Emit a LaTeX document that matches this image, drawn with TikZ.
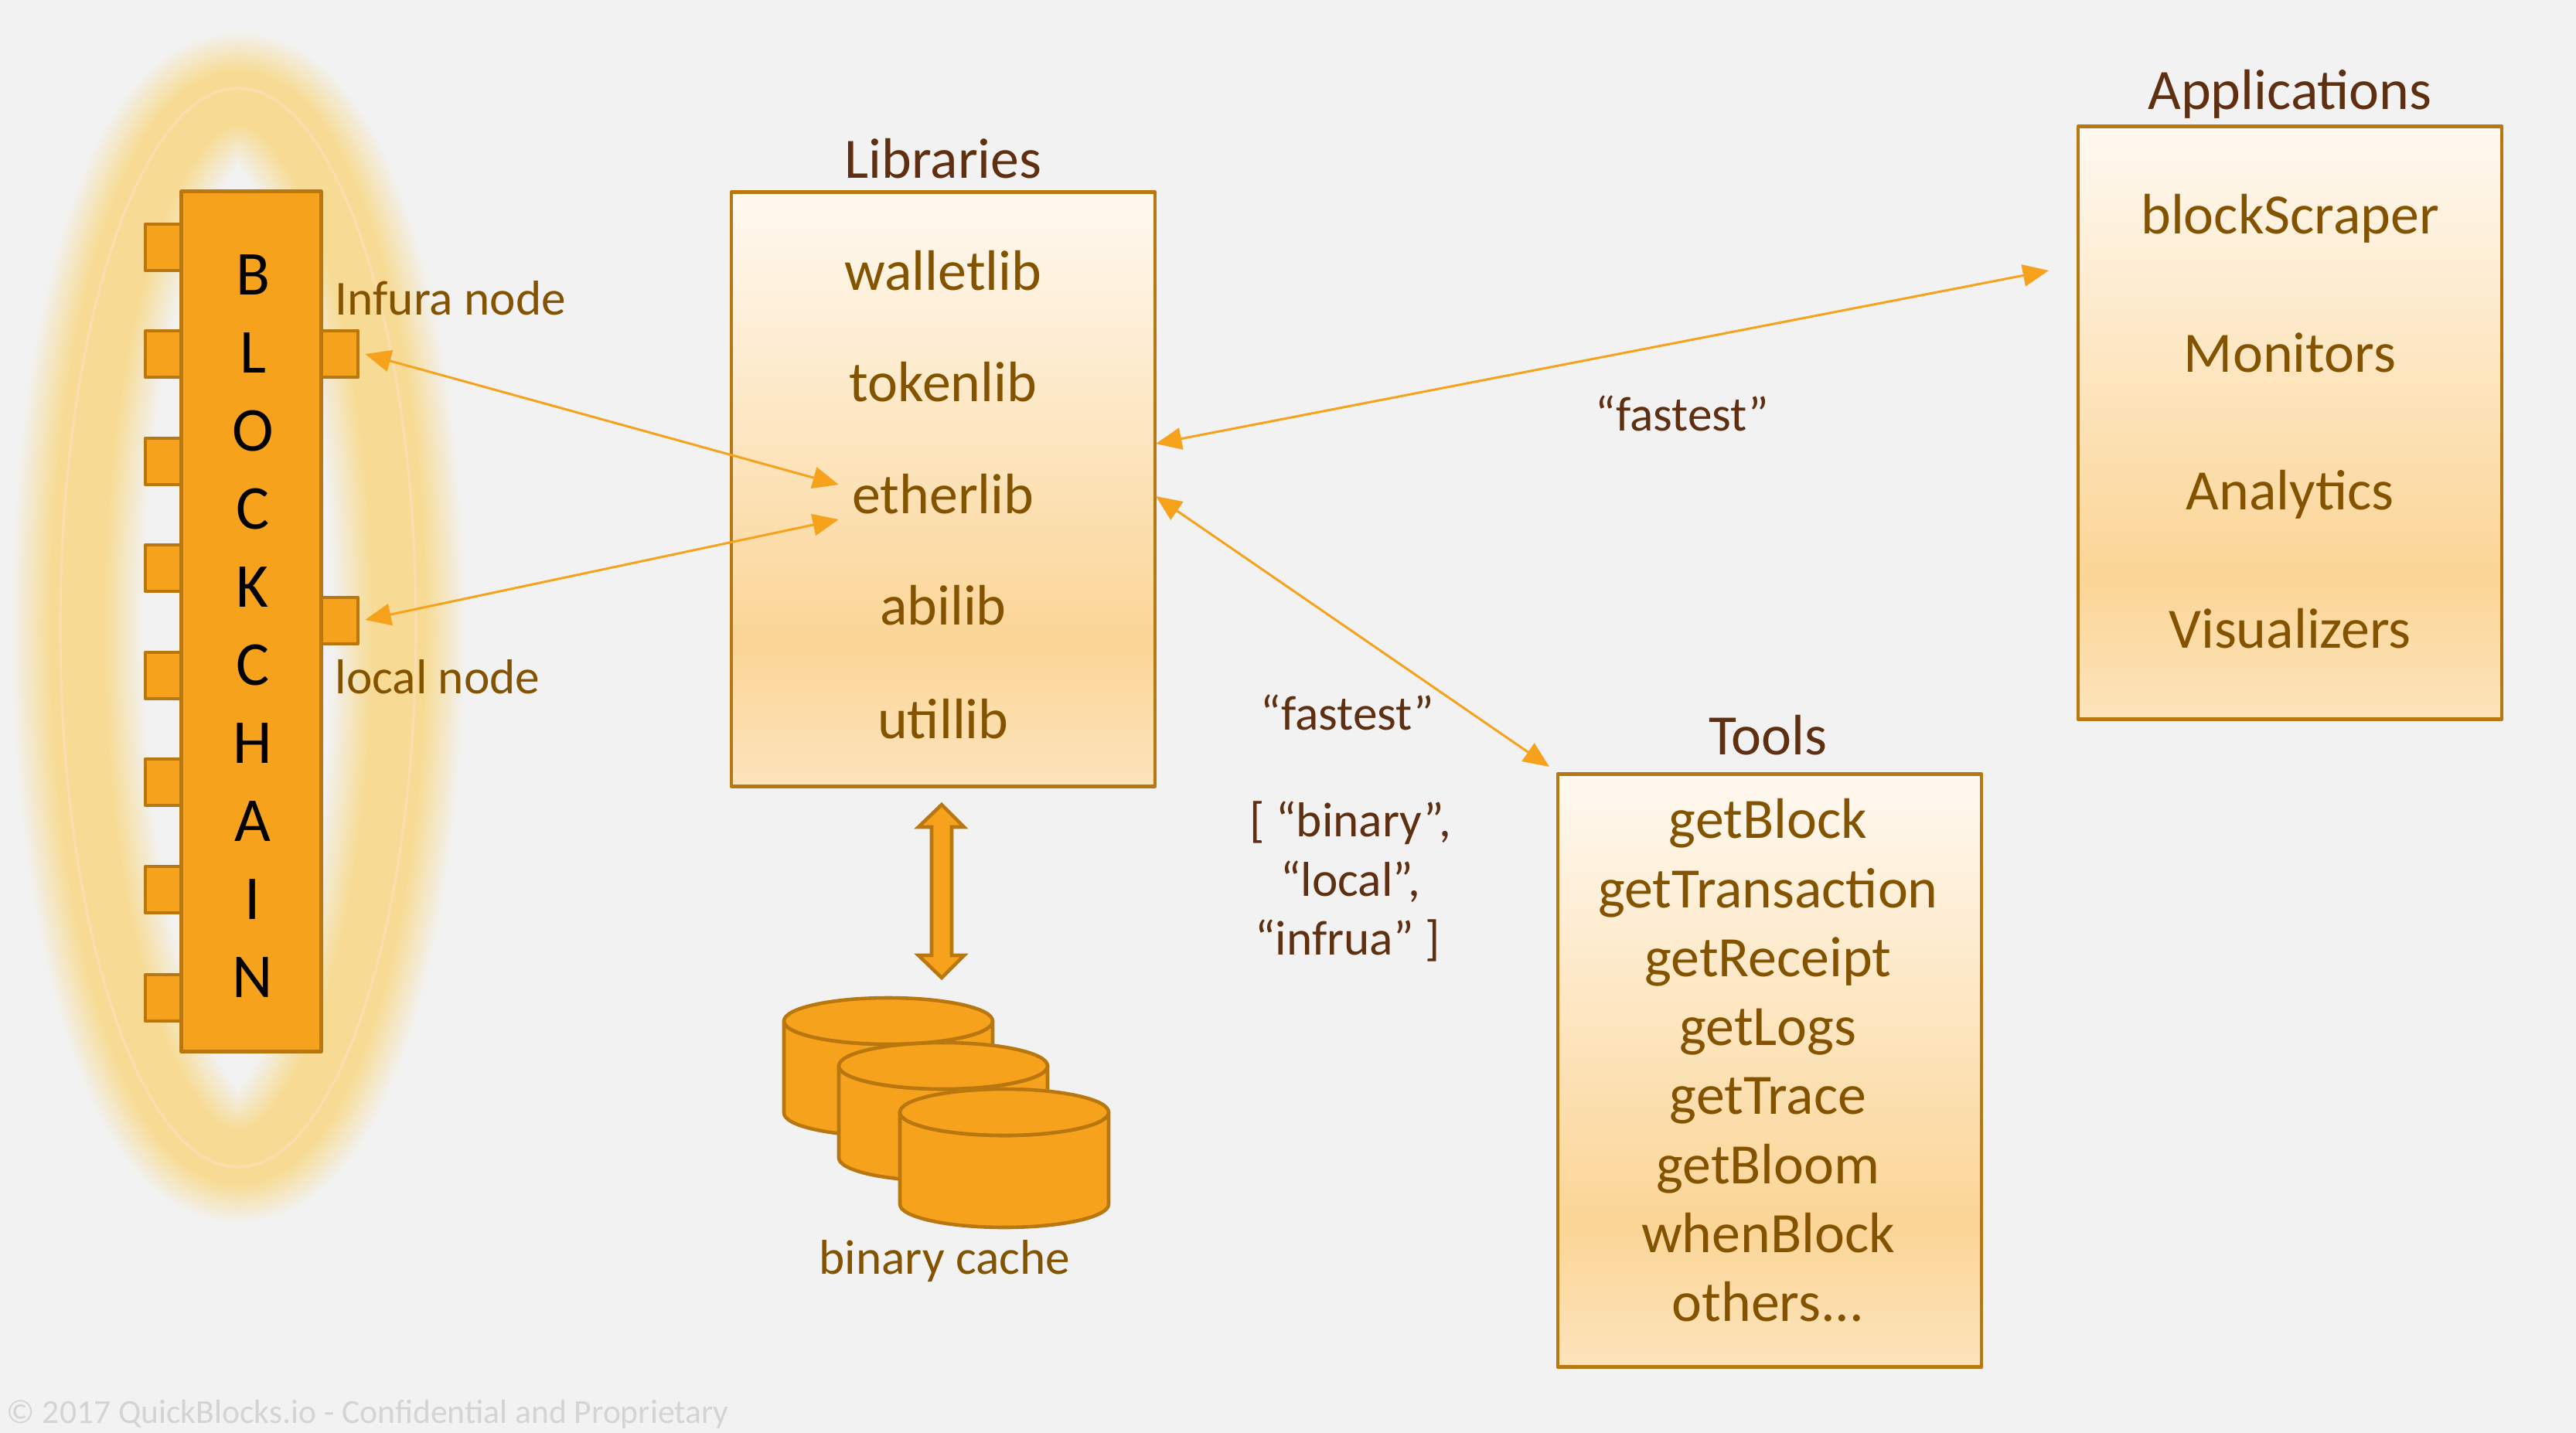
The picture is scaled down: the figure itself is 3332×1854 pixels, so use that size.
\documentclass[tikz,border=0pt]{standalone}
\usepackage{fontspec}
\setmainfont{Carlito}
\usetikzlibrary{arrows.meta}

\definecolor{pagegray}{HTML}{F2F2F2}
\definecolor{chainfill}{HTML}{F6A21C}
\definecolor{chainline}{HTML}{B8770F}
\definecolor{glowcore}{HTML}{F7DB94}
\definecolor{glowline}{HTML}{F9DDAE}
\definecolor{labelbrown}{HTML}{845300}
\definecolor{titlebrown}{HTML}{5E2F10}
\definecolor{boxtop}{HTML}{FFF9F1}
\definecolor{boxmid}{HTML}{FBD596}
\definecolor{boxlow}{HTML}{FDE4BC}

\pgfdeclareverticalshading{panelshade}{100bp}{color(0bp)=(boxlow); color(25bp)=(boxlow); color(37bp)=(boxmid); color(75bp)=(boxtop); color(100bp)=(boxtop)}

\tikzset{
  panel/.style={draw=chainline, line width=1.3pt, shading=panelshade, line join=round, inner sep=0pt},
  port/.style={draw=chainline, fill=chainfill, line width=1.3pt, line join=round, inner sep=0pt, minimum width=1.04cm, minimum height=0.6cm},
  letter/.style={font=\fontsize{23}{27}\selectfont, text=black, inner sep=0pt, text height=14pt, text depth=0pt},
  rowtext/.style={font=\fontsize{21}{25}\selectfont, text=labelbrown, inner sep=0pt, text height=14pt, text depth=0pt},
  titletext/.style={font=\fontsize{21}{25}\selectfont, text=titlebrown, inner sep=0pt, text height=14pt, text depth=0pt},
  notetext/.style={font=\fontsize{18}{22}\selectfont, text=titlebrown, inner sep=0pt, text height=13pt, text depth=0pt},
  sidetext/.style={font=\fontsize{18}{22}\selectfont, text=labelbrown, inner sep=0pt, text height=13pt, text depth=0pt},
  link/.style={draw=chainfill, line width=0.85pt, {Triangle[length=9.5pt,width=8pt]}-{Triangle[length=9.5pt,width=8pt]}},
}

\begin{document}
\begin{tikzpicture}[x=0.01cm,y=-0.01cm]

% Page
\fill[pagegray] (0,0) rectangle (3332,1854);
\useasboundingbox (0,0) rectangle (3332,1854);

% Glow around the chain
\foreach \w [evaluate=\w as \p using {int(100*(177-\w)/105)}] in {170,163,...,72}
  \draw[glowcore!\p!pagegray, line width=\w*0.2845pt] (308,812) ellipse (208 and 685);
\draw[glowline, line width=0.9pt] (308,812) ellipse (230 and 698);

% Blockchain ports and bar
\foreach \y [count=\i] in {320,458,597,735,874,1012,1151,1291}
  \node[port] (left\i) at (240,\y) {};
\node[port] (infura) at (411,458) {};
\node[port] (local) at (411,803) {};
\node[draw=chainline, fill=chainfill, line width=1.3pt, line join=round, inner sep=0pt,
  minimum width=1.81cm, minimum height=11.12cm] (chain) at (325,804) {};

\foreach \ch [count=\i from 0] in {B,L,O,C,K,C,H,A,I,N}
  \node[letter] (letter\i) at (327,{357+101*\i}) {\ch};

\node[sidetext, anchor=west] (infuralabel) at (433,385) {Infura node};
\node[sidetext, anchor=west] (locallabel) at (433,875) {local node};

% Libraries
\node[panel, minimum width=5.48cm, minimum height=7.68cm] (libraries) at (1220,633) {};
\node[titletext] (librariestitle) at (1220,206) {Libraries};
\node[rowtext] (walletlib) at (1220,351) {walletlib};
\node[rowtext] (tokenlib) at (1220,495) {tokenlib};
\node[rowtext] (etherlib) at (1220,640) {etherlib};
\node[rowtext] (abilib) at (1220,784) {abilib};
\node[rowtext] (utillib) at (1220,931) {utillib};

% Applications
\node[panel, minimum width=5.48cm, minimum height=7.67cm] (applications) at (2962,547) {};
\node[titletext] (appstitle) at (2962,117) {Applications};
\foreach \name/\y [count=\i] in {blockScraper/278,Monitors/457,Analytics/635,Visualizers/814}
  \node[rowtext] (app\i) at (2962,\y) {\name};

% Tools
\node[panel, minimum width=5.48cm, minimum height=7.67cm] (tools) at (2289,1385) {};
\node[titletext] (toolstitle) at (2287,952) {Tools};
\foreach \name/\y [count=\i] in {getBlock/1060,getTransaction/1150,getReceipt/1239,getLogs/1328,getTrace/1417,getBloom/1507,whenBlock/1596}
  \node[rowtext] (tool\i) at (2287,\y) {\name};
\node[rowtext] (tool8) at (2287,1685) {others...};

% Binary cache
\foreach \x/\y in {1149/1321,1220/1379,1299/1439}{
  \filldraw[fill=chainfill, draw=chainline, line width=1.3pt, line join=round]
    (\x-135,\y) -- (\x-135,\y+119) arc (180:0:135 and 30) -- (\x+135,\y) arc (0:180:135 and 30) -- cycle;
  \draw[fill=chainfill, draw=chainline, line width=1.3pt] (\x,\y) ellipse (135 and 30);
}
\node[sidetext] (cachelabel) at (1222,1626) {binary cache};

% Block arrow
\filldraw[fill=chainfill, draw=chainline, line width=1.3pt, line join=miter]
  (1218,1041) -- (1247,1070) -- (1231,1070) -- (1231,1236) -- (1247,1236) -- (1218,1265)
  -- (1188,1236) -- (1205,1236) -- (1205,1070) -- (1188,1070) -- cycle;

% Connectors
\coordinate (infuraend) at ([xshift=0.07cm]infura.east);
\coordinate (localend) at ([xshift=0.07cm,yshift=0.01cm]local.east);
\coordinate (etherin) at ([xshift=-0.17cm,yshift=0.13cm]etherlib.west);
\coordinate (etherout) at ([xshift=-0.17cm,yshift=-0.32cm]etherlib.west);
\coordinate (appsfast) at (1495,574);
\coordinate (toolsfast) at (1495,642);
\coordinate (appsend) at (2650,350);
\coordinate (toolsend) at (2004,992);
\draw[link] (infuraend) -- (etherin);
\draw[link] (localend) -- (etherout);
\draw[link] (appsfast) -- (appsend);
\draw[link] (toolsfast) -- (toolsend);

% Labels on the connectors
\node[notetext] (fastestapps) at (2176,535) {“fastest”};
\node[notetext] (fastesttools) at (1743,922) {“fastest”};
\node[notetext] (modebinary) at (1747,1060) {[ “binary”,};
\node[notetext] (modelocal) at (1747,1137) {“local”,};
\node[notetext] (modeinfura) at (1743,1213) {“infrua” ]};

% Footer
\node[font=\fontsize{12.4}{15}\selectfont, text=black!17, inner sep=0pt, anchor=west] (footer) at (8,1830)
  {© 2017 QuickBlocks.io - Confidential and Proprietary};

\end{tikzpicture}
\end{document}
